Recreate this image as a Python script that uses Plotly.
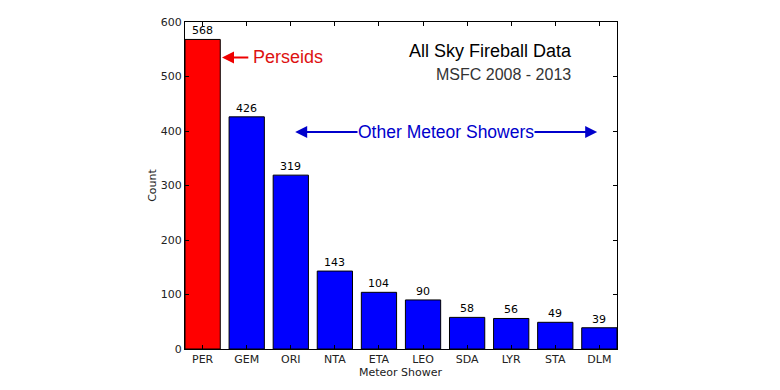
import plotly.graph_objects as go

showers = ["PER", "GEM", "ORI", "NTA", "ETA", "LEO", "SDA", "LYR", "STA", "DLM"]
counts = [568, 426, 319, 143, 104, 90, 58, 56, 49, 39]
bar_colors = ["#ff0000"] + ["#0000ff"] * 9

x = list(range(len(showers)))
fig = go.Figure()
fig.add_trace(go.Bar(
    x=x, y=counts, width=0.8,
    marker=dict(color=bar_colors, line=dict(color="black", width=1)),
))

tickfont = dict(family="DejaVu Sans", size=11, color="#222222")
fig.update_layout(
    width=772, height=382,
    margin=dict(l=177, r=163, t=8, b=41),
    paper_bgcolor="white", plot_bgcolor="white",
    showlegend=False,
    xaxis=dict(range=[-0.4, 9.4], tickvals=x, ticktext=showers,
               ticks="inside", ticklen=4, tickcolor="black",
               showline=True, linecolor="black", linewidth=1, mirror="allticks",
               showgrid=False, zeroline=False, tickfont=tickfont),
    yaxis=dict(range=[0, 600], tickvals=[0, 100, 200, 300, 400, 500, 600],
               ticks="inside", ticklen=4, tickcolor="black",
               showline=True, linecolor="black", linewidth=1, mirror="allticks",
               showgrid=False, zeroline=False, tickfont=tickfont,
               title=dict(text="Count", font=tickfont, standoff=1)),
)

# bar value labels
for xi, c in zip(x, counts):
    fig.add_annotation(x=xi, y=c, xref="x", yref="y", text=str(c),
                       showarrow=False, yanchor="bottom", yshift=1,
                       borderpad=0,
                       font=dict(family="DejaVu Sans", size=11, color="black"))

# x-axis title
fig.add_annotation(x=0.5, y=0, xref="paper", yref="paper", yshift=-23,
                   text="Meteor Shower", showarrow=False, yanchor="middle",
                   font=tickfont)

ann_font = "Liberation Sans, Arial, sans-serif"
# Perseids arrow + label
fig.add_annotation(x=0.44, y=535, ax=1.07, ay=535, axref="x", ayref="y",
                   xref="x", yref="y", text="", showarrow=True,
                   arrowhead=2, arrowsize=1.2, arrowwidth=2, arrowcolor="#ee0000")
fig.add_annotation(x=1.09, y=535, xref="x", yref="y", text="Perseids",
                   showarrow=False, xanchor="left",
                   font=dict(family=ann_font, size=18, color="#dd1111"))
# Title texts
fig.add_annotation(x=6.52, y=546, xref="x", yref="y", text="All Sky Fireball Data",
                   showarrow=False, font=dict(family=ann_font, size=18, color="black"))
fig.add_annotation(x=6.82, y=503, xref="x", yref="y", text="MSFC 2008 - 2013",
                   showarrow=False, font=dict(family=ann_font, size=16, color="#333333"))
# Other meteor showers
fig.add_annotation(x=2.1, y=398, ax=3.9, ay=398, axref="x", ayref="y",
                   xref="x", yref="y", text="", showarrow=True,
                   arrowhead=2, arrowsize=1.2, arrowwidth=2, arrowcolor="#0000cc")
fig.add_annotation(x=8.95, y=398, ax=7.0, ay=398, axref="x", ayref="y",
                   xref="x", yref="y", text="", showarrow=True,
                   arrowhead=2, arrowsize=1.2, arrowwidth=2, arrowcolor="#0000cc")
fig.add_annotation(x=5.52, y=398, xref="x", yref="y", text="Other Meteor Showers",
                   showarrow=False, bgcolor="white", borderpad=0,
                   font=dict(family=ann_font, size=17.5, color="#0000cc"))

fig.write_html("out.html")
